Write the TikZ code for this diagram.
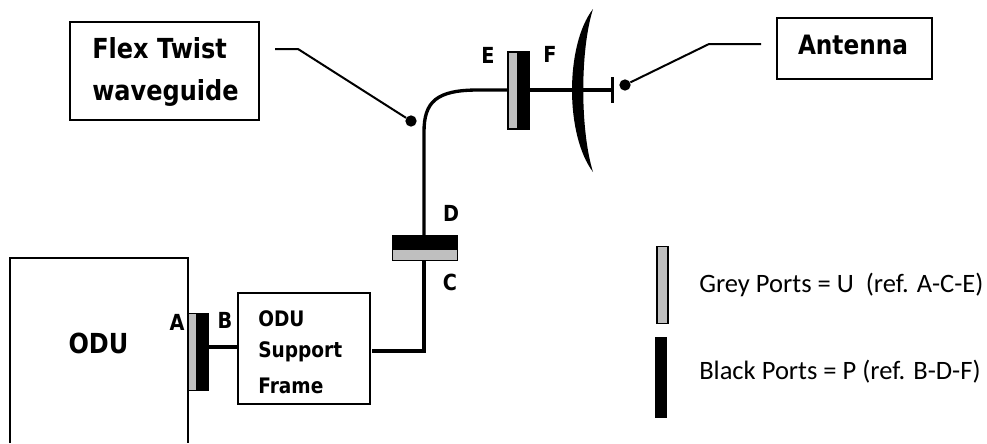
\documentclass[tikz,border=0pt]{standalone}
\usepackage{fontspec}
\setmainfont{DejaVu Sans}[FakeStretch=0.87]
\newfontfamily\legendfont{Carlito}
\tikzset{
  x=0.75pt,y=-0.75pt,
  boxed/.style={draw=black,line width=1.7pt,fill=white,rectangle,inner sep=0pt,outer sep=0pt},
  wire/.style={draw=black,line width=2.5pt},
  leader/.style={draw=black,line width=1.5pt},
  port/.style={rectangle,inner sep=0pt,outer sep=0pt,line width=1.2pt,draw=black},
  greyport/.style={port,fill=black!25},
  blackport/.style={port,fill=black},
  dotm/.style={circle,fill=black,inner sep=0pt,minimum size=8.5pt},
  lbl/.style={font=\bfseries\fontsize{16.6}{18}\selectfont,inner sep=0pt,anchor=center},
  title/.style={font=\bfseries\fontsize{20.7}{31.5}\selectfont,inner sep=0pt,align=left},
  frametext/.style={font=\bfseries\fontsize{16}{18}\selectfont,inner sep=0pt,anchor=west},
  legend/.style={font=\legendfont\fontsize{19.9}{23}\selectfont,inner sep=0pt,anchor=west}
}
\begin{document}
\begin{tikzpicture}
\useasboundingbox (0,0) rectangle (987,443);
% wires
\node[greyport,minimum width=7.5pt,minimum height=58pt] (pa) at (192.5,352) {};
\node[blackport,minimum width=8pt,minimum height=58pt] (pb) at (202.5,352) {};
\node[blackport,minimum width=49pt,minimum height=9.5pt] (pd) at (425,242.5) {};
\node[greyport,minimum width=49pt,minimum height=8.5pt] (pc) at (425,255) {};
\node[greyport,minimum width=7.5pt,minimum height=57.5pt] (pe) at (513,90.5) {};
\node[blackport,minimum width=8pt,minimum height=57.5pt] (pf) at (523.5,90.5) {};
\node[boxed,minimum width=99.5pt,minimum height=83pt] (frame) at (304,348.5) {};
\coordinate (frameout) at (372,351);
\coordinate (bout) at (208,347);
\coordinate (bin) at (237,347);
\coordinate (bend) at (424,351);
\coordinate (feed) at (612.5,90);
\coordinate (feedtop) at (612.5,77);
\coordinate (feedbot) at (612.5,103);
\draw[wire] (frameout) -- (bend) -- (pc.south -| bend);
\draw[wire] (pd.north -| bend) -- (424,132) .. controls (424,102) and (436,90) .. (478,90) -- (pe.west |- feed);
\draw[wire] (pf.east |- feed) -- (feed);
\draw[wire] (bout) -- (bin);
\draw[wire] (feedtop) -- (feedbot);
% ODU (runs off the lower edge)
\draw[black,line width=1.3pt] (10,443) -- (10,258) -- (188,258) -- (188,443);
\node[font=\bfseries\fontsize{20.7}{22}\selectfont,inner sep=0pt] (odu) at (98.5,343) {ODU};
% frame text
\node[frametext] (t1) at (258,319) {ODU};
\node[frametext] (t2) at (258,352) {Support};
\node[frametext] (t3) at (258,386) {Frame};
% dish
\fill[black] (593,9) .. controls (565,45) and (565,135) .. (593,172) .. controls (580,130) and (580,50) .. (593,9) -- cycle;
% leaders
\node[dotm] (d1) at (411,121) {};
\node[dotm] (d2) at (625,85) {};
% callouts
\node[boxed,line width=1.9pt,minimum width=141.5pt,minimum height=73.5pt] (flex) at (164.5,71) {};
\node[title,anchor=west] (flext) at (92,72) {Flex Twist\\waveguide};
\node[boxed,minimum width=116pt,minimum height=46pt] (ant) at (854.5,48.5) {};
\node[font=\bfseries\fontsize{20}{22}\selectfont,inner sep=0pt] (antt) at (853,45) {Antenna};
\coordinate (l1) at (275,49);
\coordinate (l2) at (298,49);
\coordinate (r1) at (761,44);
\coordinate (r2) at (709,44);
\draw[leader] (l1) -- (l2) -- (d1);
\draw[leader] (r1) -- (r2) -- (d2);
% labels
\node[lbl] (la) at (177,322) {A};
\node[lbl] (lb) at (225,320) {B};
\node[lbl] (lc) at (450,282) {C};
\node[lbl] (ld) at (451,213) {D};
\node[lbl] (le) at (488,55) {E};
\node[lbl] (lf) at (550,54) {F};
% legend
\node[greyport,minimum width=8pt,minimum height=58pt] (kg) at (662.5,285) {};
\node[blackport,minimum width=8.5pt,minimum height=59pt] (kb) at (661,377.5) {};
\node[legend] (tg) at (699,285) {Grey Ports = U\ \ (ref. A-C-E)};
\node[legend] (tb) at (699,372) {Black Ports = P (ref. B-D-F)};
\end{tikzpicture}
\end{document}
